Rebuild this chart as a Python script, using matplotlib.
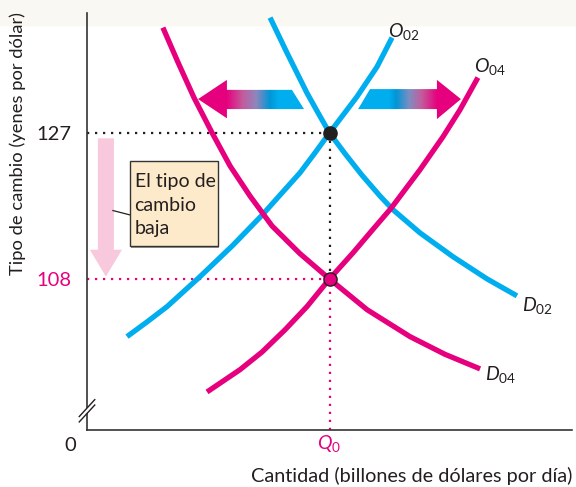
import numpy as np
import matplotlib.pyplot as plt
from matplotlib.patches import Polygon, Rectangle
from matplotlib.colors import LinearSegmentedColormap

plt.rcParams['font.family'] = ['Lato', 'DejaVu Sans']
plt.rcParams['mathtext.fontset'] = 'custom'
plt.rcParams['mathtext.rm'] = 'Lato'
plt.rcParams['mathtext.it'] = 'Lato:italic'

# puntos (cantidad, tipo de cambio)
o02_q = [16.5, 24.7, 33.0, 46.6, 60.2, 72.2, 80.4, 87.8, 94.0, 100.0, 111.3, 119.6, 125.8]
o02_p = [100.5, 102.4, 104.4, 108.3, 112.4, 116.3, 119.2, 121.8, 124.4, 127.0, 131.7, 135.6, 139.4]

o04_q = [49.5, 63.1, 72.2, 81.7, 90.7, 100.0, 109.7, 117.5, 125.4, 137.3, 146.8, 153.8, 161.2]
o04_p = [93.3, 96.2, 98.5, 101.4, 104.4, 108.0, 111.4, 114.3, 117.2, 122.2, 126.5, 130.0, 134.2]

d02_q = [75.5, 82.5, 90.7, 95.3, 100.0, 106.4, 113.4, 120.8, 126.2, 137.3, 150.9, 165.0, 177.3]
d02_p = [142.0, 137.4, 132.2, 129.6, 127.0, 124.3, 121.5, 118.8, 117.0, 114.0, 110.9, 108.0, 105.8]

d04_q = [31.3, 37.5, 44.1, 51.6, 59.0, 67.2, 76.3, 87.8, 100.0, 115.5, 133.2, 147.6, 162.1]
d04_p = [140.7, 136.2, 131.6, 127.0, 122.7, 118.8, 114.9, 111.3, 108.0, 104.0, 100.5, 98.2, 96.3]

q0 = 100
p_02 = 127
p_04 = 108

blue = '#00AEEF'
pink = '#E6007E'
dark = '#231F20'

fig = plt.figure(figsize=(5.76, 4.87), dpi=100)
fig.patches.append(Rectangle((0, 1 - 25/487), 1, 25/487, transform=fig.transFigure,
                             color='#FAF8F3', zorder=-5))
ax = fig.add_axes([87/576, 57/487, 485/576, 417/487])
ax.patch.set_alpha(0)
ax.set_xlim(0, 200)
ax.set_ylim(88.35, 142.6)

for s in ['top', 'right']:
    ax.spines[s].set_visible(False)
for s in ['left', 'bottom']:
    ax.spines[s].set_color('#333333')
    ax.spines[s].set_linewidth(1.2)

# curvas
ax.plot(o02_q, o02_p, color=blue, lw=3.8, solid_capstyle='butt', solid_joinstyle='round', zorder=3)
ax.plot(d02_q, d02_p, color=blue, lw=3.8, solid_capstyle='butt', solid_joinstyle='round', zorder=3)
ax.plot(o04_q, o04_p, color=pink, lw=3.8, solid_capstyle='butt', solid_joinstyle='round', zorder=4)
ax.plot(d04_q, d04_p, color=pink, lw=3.8, solid_capstyle='butt', solid_joinstyle='round', zorder=4)

# lineas punteadas
dots = (0, (1, 2.6))
ax.plot([0, q0], [p_02, p_02], color=dark, lw=1.6, ls=dots, zorder=2)
ax.plot([q0, q0], [p_04, p_02], color=dark, lw=1.6, ls=dots, zorder=2)
ax.plot([0, q0], [p_04, p_04], color=pink, lw=1.6, ls=dots, zorder=2)
ax.plot([q0, q0], [88.35, p_04], color=pink, lw=1.6, ls=dots, zorder=2)

# equilibrios
ax.plot([q0], [p_02], 'o', color=dark, ms=9.5, zorder=6)
ax.plot([q0], [p_04], 'o', color=pink, mec=dark, mew=1, ms=9.5, zorder=6)


def grad_arrow(verts, colors):
    poly = Polygon(verts, closed=True, fc='none', ec='none')
    ax.add_patch(poly)
    xs = [v[0] for v in verts]
    ys = [v[1] for v in verts]
    cmap = LinearSegmentedColormap.from_list('g', colors)
    grad = np.linspace(0, 1, 256).reshape(1, -1)
    im = ax.imshow(grad, cmap=cmap, aspect='auto', zorder=5,
                   extent=[min(xs), max(xs), min(ys), max(ys)])
    im.set_clip_path(poly)


# flecha izquierda
grad_arrow([(45.8, 131.4), (57.7, 133.9), (57.7, 132.6), (84.5, 132.6),
            (89.5, 130.1), (57.7, 130.1), (57.7, 128.9)],
           [(0, pink), (0.27, pink), (0.42, '#C45B9B'), (0.55, '#8F86BD'),
            (0.68, '#0096D6'), (0.76, blue), (1, blue)])
# flecha derecha
grad_arrow([(116.7, 132.7), (144.3, 132.7), (144.3, 133.9), (154.2, 131.4),
            (144.3, 128.8), (144.3, 130.1), (111.8, 130.1)],
           [(0, blue), (0.3, blue), (0.37, '#0096D6'), (0.5, '#7E8EC2'),
            (0.62, '#C45B9B'), (0.77, pink), (1, pink)])

# flecha hacia abajo
ax.add_patch(Polygon([(4.5, 126.3), (11.1, 126.3), (11.1, 111.8), (14.4, 111.8),
                      (7.8, 108.3), (1.2, 111.8), (4.5, 111.8)],
                     closed=True, fc='#F8C8DC', ec='none', zorder=2))

# recuadro
ax.add_patch(Rectangle((18.2, 112.0), 36.2, 11.0, fc='#9A9A9A', ec='none', zorder=6))
ax.add_patch(Rectangle((17.7, 112.3), 36.2, 11.0, fc='#FDEACB', ec='#333333', lw=1, zorder=7))
ax.plot([10.7, 18.1], [116.9, 116.3], color=dark, lw=0.9, zorder=6)
ax.text(19.6, 117.6, 'El tipo de\ncambio\nbaja', fontsize=14, color=dark,
        ha='left', va='center', linespacing=1.45, zorder=8)

# etiquetas de curvas
ax.text(124.0, 140.2, r'$O_{\mathrm{02}}$', fontsize=14, color=dark, ha='left', va='center')
ax.text(159.5, 135.6, r'$O_{\mathrm{04}}$', fontsize=14, color=dark, ha='left', va='center')
ax.text(179.5, 104.6, r'$D_{\mathrm{02}}$', fontsize=14, color=dark, ha='left', va='center')
ax.text(164.0, 95.6, r'$D_{\mathrm{04}}$', fontsize=14, color=dark, ha='left', va='center')

# ejes
ax.set_yticks([p_04, p_02])
ax.set_yticklabels(['108', '127'], fontsize=14.5)
ax.get_yticklabels()[0].set_color(pink)
ax.get_yticklabels()[1].set_color(dark)
ax.set_xticks([q0])
ax.set_xticklabels([r'$Q_{\mathrm{0}}$'], fontsize=14, color=pink)
ax.tick_params(length=0, pad=11, axis='y')
ax.tick_params(length=0, pad=2, axis='x')
ax.text(-7, 88.35 - 0.9, '0', fontsize=14.5, color=dark, ha='center', va='top')

# corte del eje
ax.add_patch(Polygon([(-3.5, 89.7), (3.0, 91.3), (3.0, 92.0), (-3.5, 90.4)],
                     closed=True, fc='white', ec='none', zorder=8, clip_on=False))
ax.plot([-3.2, 3.2], [89.4, 91.6], color=dark, lw=1, clip_on=False, zorder=9)
ax.plot([-3.2, 3.2], [90.1, 92.3], color=dark, lw=1, clip_on=False, zorder=9)

fig.text(572/576, 1 - 476/487, 'Cantidad (billones de dólares por día)', fontsize=14.3,
         color=dark, ha='right', va='center')
fig.text(18/576, 1 - 12/487, 'Tipo de cambio (yenes por dólar)', fontsize=13.2,
         color=dark, ha='center', va='top', rotation=90)

fig.savefig('out.png', dpi=100)
